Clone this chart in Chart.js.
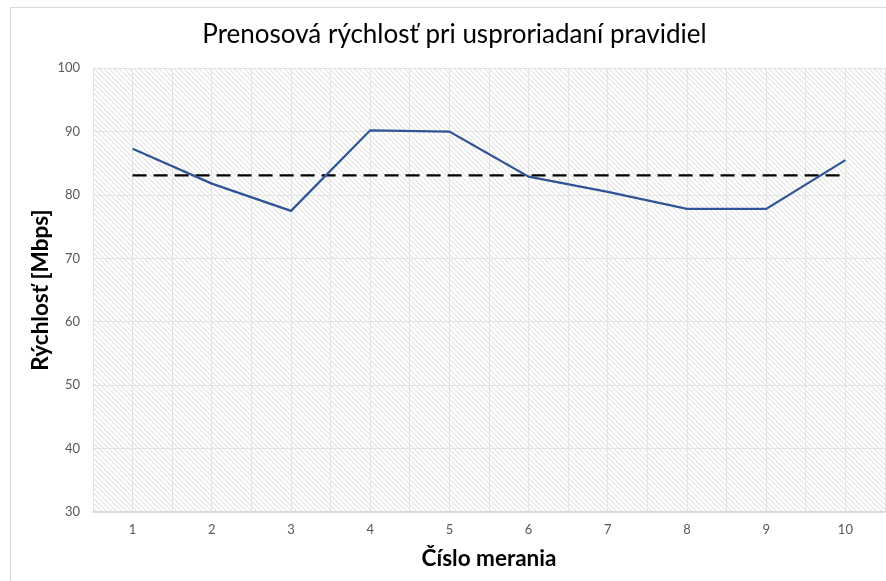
<!DOCTYPE html>
<html>
<head>
<meta charset="utf-8">
<script src="https://cdn.jsdelivr.net/npm/chart.js@4"></script>
<style>
html,body{margin:0;padding:0;background:#fff;}
#wrap{width:886px;height:581px;position:relative;}
</style>
</head>
<body>
<div id="wrap"><canvas id="c" width="886" height="581"></canvas></div>
<script>
const chartTitle = 'Prenosová rýchlosť pri usproriadaní pravidiel';
const xAxisTitle = 'Číslo merania';
const yAxisTitle = 'Rýchlosť [Mbps]';
const measurements = [1, 2, 3, 4, 5, 6, 7, 8, 9, 10];
const speedValues = [87.3, 81.8, 77.5, 90.2, 90.0, 82.9, 80.5, 77.8, 77.8, 85.5];
const averageValues = [83.1, 83.1, 83.1, 83.1, 83.1, 83.1, 83.1, 83.1, 83.1, 83.1];
const yTicks = [30, 40, 50, 60, 70, 80, 90, 100];

function makePattern(ctx) {
  const p = document.createElement('canvas');
  p.width = 5; p.height = 5;
  const pc = p.getContext('2d');
  pc.fillStyle = '#ffffff';
  pc.fillRect(0, 0, 5, 5);
  pc.fillStyle = '#e4e4e4';
  for (let i = 0; i < 5; i++) {
    pc.fillRect(i, i, 1, 1);
  }
  pc.fillStyle = '#f0f0f0';
  for (let i = 0; i < 5; i++) {
    pc.fillRect((i + 1) % 5, i, 1, 1);
  }
  return ctx.createPattern(p, 'repeat');
}

const bgPlugin = {
  id: 'bg',
  beforeDraw(chart) {
    const ctx = chart.ctx;
    const a = chart.chartArea;
    ctx.save();
    ctx.fillStyle = '#ffffff';
    ctx.fillRect(0, 0, chart.width, chart.height);
    ctx.strokeStyle = '#d9d9d9';
    ctx.lineWidth = 1;
    ctx.strokeRect(10.5, 7.5, 900, 600);
    ctx.fillStyle = makePattern(ctx);
    ctx.fillRect(a.left, a.top, a.right - a.left, a.bottom - a.top);
    ctx.restore();
  }
};

new Chart(document.getElementById('c'), {
  type: 'line',
  data: {
    datasets: [
      {
        label: 'Rýchlosť',
        data: measurements.map((m, i) => ({x: m, y: speedValues[i]})),
        borderColor: '#2f5597',
        borderWidth: 2.25,
        pointRadius: 0,
        tension: 0,
        fill: false
      },
      {
        label: 'Priemer',
        data: measurements.map((m, i) => ({x: m, y: averageValues[i]})),
        borderColor: '#000000',
        borderWidth: 2.25,
        borderDash: [14, 7],
        pointRadius: 0,
        tension: 0,
        fill: false
      }
    ]
  },
  options: {
    responsive: false,
    animation: false,
    layout: {padding: {left: 24, right: 1, top: 7, bottom: 0}},
    plugins: {
      legend: {display: false},
      tooltip: {enabled: false},
      title: {
        display: true,
        text: chartTitle,
        color: '#000000',
        font: {family: 'Lato', size: 26, weight: 'normal'},
        padding: {top: 12, bottom: 18}
      }
    },
    scales: {
      x: {
        type: 'linear',
        min: 0.5,
        max: 10.5,
        afterBuildTicks(scale) {
          const t = [];
          for (let v = 0.5; v <= 10.5; v += 0.5) t.push({value: v});
          scale.ticks = t;
        },
        afterFit(scale) { scale.height = 69; scale.paddingRight = 0; scale.paddingLeft = 0; },
        ticks: {
          autoSkip: false,
          maxRotation: 0,
          color: '#595959',
          font: {family: 'Lato', size: 13},
          padding: 10,
          callback: (v) => Number.isInteger(v) ? String(v) : ''
        },
        grid: {color: '#e3e3e3', lineWidth: 1, drawTicks: false},
        border: {display: true, color: '#d9d9d9', width: 1.5},
        title: {
          display: true,
          text: xAxisTitle,
          color: '#000000',
          font: {family: 'Lato', size: 22.5, weight: 'bold'},
          padding: {top: 0, bottom: 9}
        }
      },
      y: {
        min: 30,
        max: 100,
        afterBuildTicks(scale) { scale.ticks = yTicks.map(v => ({value: v})); },
        afterFit(scale) { scale.width = 69; },
        ticks: {
          color: '#595959',
          font: {family: 'Lato', size: 13},
          padding: 13
        },
        grid: {color: '#e3e3e3', lineWidth: 1, drawTicks: false},
        border: {display: false},
        title: {
          display: true,
          text: yAxisTitle,
          color: '#000000',
          font: {family: 'Lato', size: 22.5, weight: 'bold'},
          padding: {top: 3, bottom: 0}
        }
      }
    }
  },
  plugins: [bgPlugin]
});
</script>
</body>
</html>
